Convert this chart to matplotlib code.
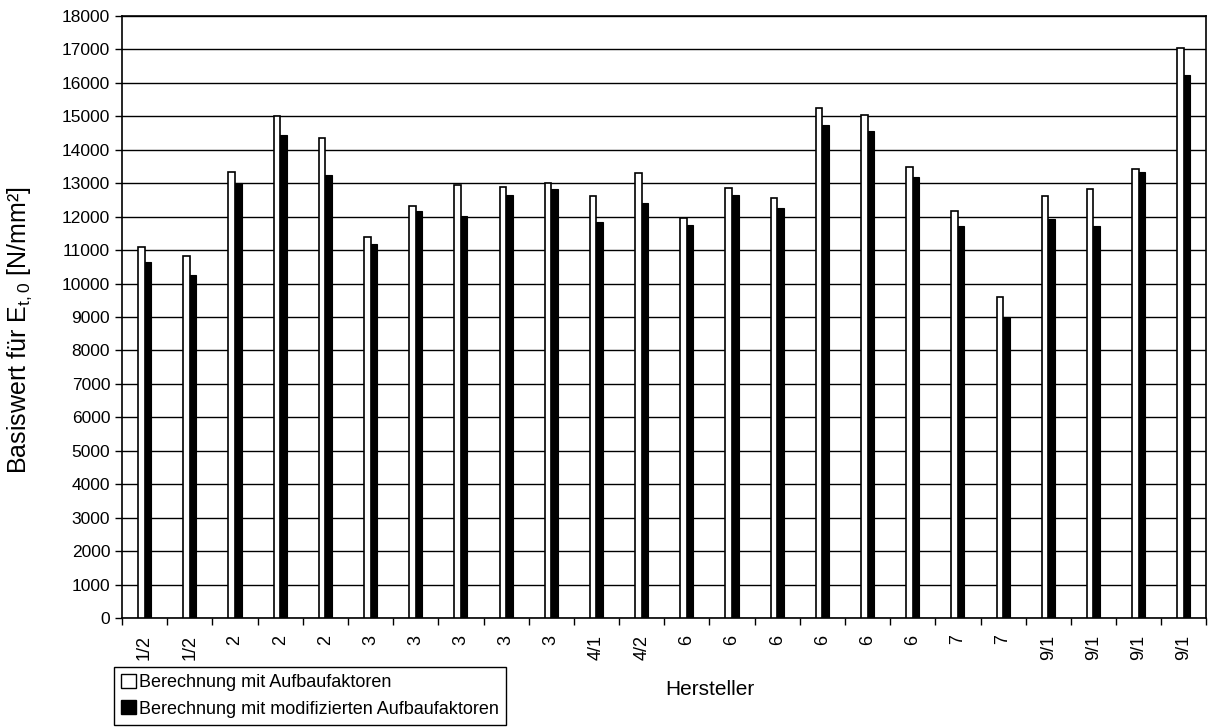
import numpy as np
import matplotlib
matplotlib.use("Agg")
import matplotlib.pyplot as plt
from matplotlib.patches import Patch

plt.rcParams['font.family'] = ['Liberation Sans', 'DejaVu Sans']
plt.rcParams['mathtext.fontset'] = 'custom'
plt.rcParams['mathtext.rm'] = 'Liberation Sans'
plt.rcParams['mathtext.default'] = 'regular'

# Hersteller (manufacturer) labels for each test series
hersteller = ["1/2", "1/2", "2", "2", "2", "3", "3", "3", "3", "3", "4/1", "4/2",
              "6", "6", "6", "6", "6", "6", "7", "7", "9/1", "9/1", "9/1", "9/1"]

# Basiswert E_t,0 [N/mm²]
mit_aufbau = [11100, 10830, 13330, 15020, 14360, 11380, 12330, 12950, 12900, 13020,
              12620, 13300, 11950, 12850, 12550, 15260, 15050, 13470, 12180, 9600,
              12610, 12820, 13420, 17040]
mit_modif = [10630, 10250, 13020, 14440, 13250, 11180, 12160, 12030, 12650, 12830,
             11830, 12420, 11750, 12660, 12270, 14750, 14550, 13180, 11710, 9000,
             11930, 11730, 13340, 16240]

x = np.arange(len(hersteller))
w = 0.145

fig = plt.figure(figsize=(12.13, 7.27), dpi=100)
ax = fig.add_axes([0.1006, 0.150, 0.894, 0.828])

ax.bar(x - w / 2, mit_aufbau, width=w, color="white", edgecolor="black", linewidth=1.2, zorder=3)
ax.bar(x + w / 2, mit_modif, width=w, color="black", edgecolor="black", linewidth=0.8, zorder=3)

ax.set_xlim(-0.5, len(hersteller) - 0.5)
ax.set_ylim(0, 18000)
ax.set_yticks(np.arange(0, 18001, 1000))
ax.yaxis.grid(True, color="black", linewidth=1.0, zorder=0)

# Excel style: ticks between categories, labels at the centres
ax.set_xticks(np.arange(-0.5, len(hersteller), 1.0))
ax.set_xticklabels([])
ax.set_xticks(x, minor=True)
ax.set_xticklabels(hersteller, minor=True, rotation=90, fontsize=13)
ax.tick_params(axis="x", which="minor", length=0, pad=12)
ax.tick_params(axis="x", which="major", length=5, width=1, direction="out")
ax.tick_params(axis="y", length=5, width=1, direction="out", labelsize=12.5)

for s in ax.spines.values():
    s.set_color("black")
    s.set_linewidth(1.2)

ax.set_ylabel("Basiswert für E$_{t,0}$ [N/mm²]", fontsize=18)
ax.yaxis.set_label_coords(-0.081, 0.478)
fig.text(0.585, 0.051, "Hersteller", fontsize=15, ha="center", va="center")

handles = [Patch(facecolor="white", edgecolor="black", linewidth=1),
           Patch(facecolor="black", edgecolor="black")]
fig.legend(handles, ["Berechnung mit Aufbaufaktoren",
                     "Berechnung mit modifizierten Aufbaufaktoren"],
           loc="lower left", bbox_to_anchor=(0.094, 0.003), fontsize=13,
           frameon=True, fancybox=False, edgecolor="black", framealpha=1,
           handlelength=0.8, handleheight=0.8, handletextpad=0.2,
           borderpad=0.4, labelspacing=0.5, borderaxespad=0)

plt.savefig("out.png", dpi=100)
